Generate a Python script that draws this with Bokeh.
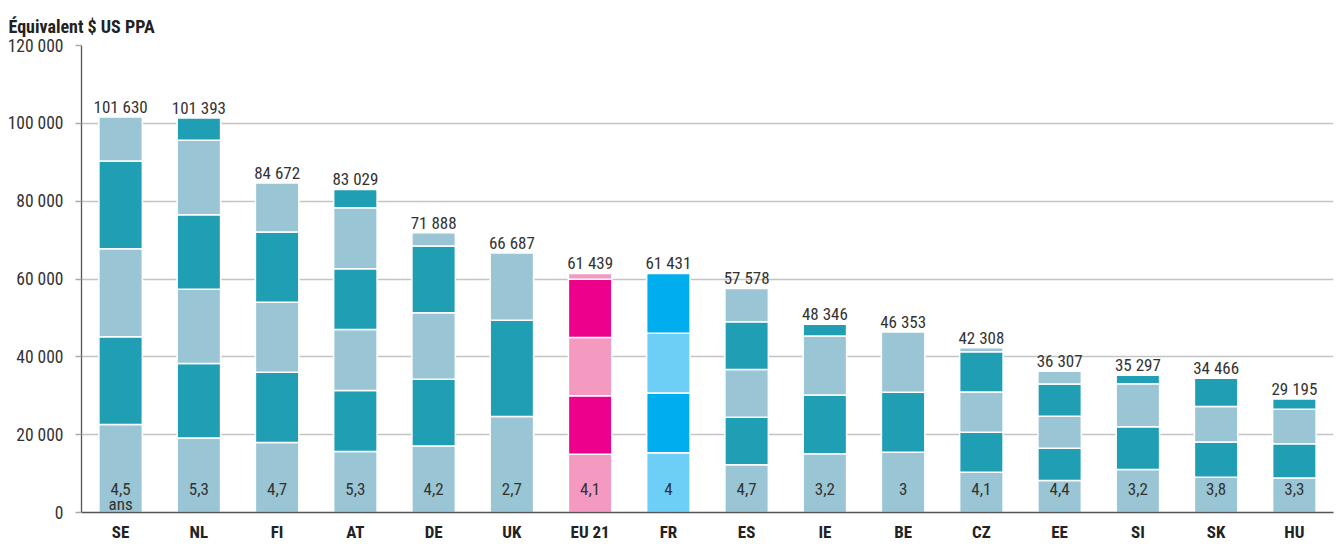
import math
from bokeh.plotting import figure
from bokeh.models import Range1d, FixedTicker, ColumnDataSource, Title
from bokeh.core.properties import value
from bokeh.embed import file_html
from bokeh.resources import INLINE

# ---- data ----
countries = ["SE", "NL", "FI", "AT", "DE", "UK", "EU 21", "FR", "ES", "IE", "BE", "CZ", "EE", "SI", "SK", "HU"]
totals = [101630, 101393, 84672, 83029, 71888, 66687, 61439, 61431, 57578, 48346, 46353, 42308, 36307, 35297, 34466, 29195]
years = [4.5, 5.3, 4.7, 5.3, 4.2, 2.7, 4.1, 4.0, 4.7, 3.2, 3.0, 4.1, 4.4, 3.2, 3.8, 3.3]
year_labels = ["4,5", "5,3", "4,7", "5,3", "4,2", "2,7", "4,1", "4", "4,7", "3,2", "3", "4,1", "4,4", "3,2", "3,8", "3,3"]
y_ticks = [0, 20000, 40000, 60000, 80000, 100000, 120000]
y_tick_labels = ["0", "20 000", "40 000", "60 000", "80 000", "100 000", "120 000"]
title_text = "Équivalent $ US PPA"
unit_text = "ans"

FONT = "'Roboto Condensed', 'Liberation Sans Narrow', Roboto, sans-serif"
palette_default = ("#99c5d4", "#209eb4")
palette_eu = ("#f49ac1", "#ec008c")
palette_fr = ("#6dcff6", "#00aeef")

# ---- segments: one per year of spending ----
seg_x, seg_bottom, seg_top, seg_color = [], [], [], []
for i, (c, t, yv) in enumerate(zip(countries, totals, years)):
    pal = palette_eu if c == "EU 21" else palette_fr if c == "FR" else palette_default
    per = t / yv
    n = math.ceil(yv - 1e-9)
    for k in range(n):
        seg_x.append(i)
        seg_bottom.append(k * per)
        seg_top.append(min((k + 1) * per, t))
        seg_color.append(pal[k % 2])

seg_src = ColumnDataSource(dict(x=seg_x, bottom=seg_bottom, top=seg_top, color=seg_color))

p = figure(width=1341, height=544, output_backend="svg", toolbar_location=None,
           x_range=Range1d(-0.5, 15.5), y_range=Range1d(0, 120000),
           min_border_left=81, min_border_right=8, min_border_top=45, min_border_bottom=32)
p.background_fill_color = "white"
p.outline_line_color = None

t = Title(text=title_text, align="left", offset=-73, text_font=FONT, text_font_size="18px",
          text_font_style="bold", text_color="#222222", standoff=14, vertical_align="top")
p.add_layout(t, "above")

p.vbar(x="x", bottom="bottom", top="top", width=0.555, fill_color="color",
       line_color="white", line_width=1.5, source=seg_src)

# totals above bars
tot_src = ColumnDataSource(dict(x=list(range(len(countries))), y=totals,
                                lab=[f"{v:,}".replace(",", " ") for v in totals]))
p.text(x="x", y="y", text="lab", source=tot_src, text_align="center", text_baseline="alphabetic",
       y_offset=-10, text_font=value(FONT), text_font_size="17px", text_color="#333333")

# years in bottom segment
yr_src = ColumnDataSource(dict(x=list(range(len(countries))), y=[0] * len(countries), lab=year_labels))
p.text(x="x", y="y", text="lab", source=yr_src, text_align="center", text_baseline="middle",
       y_offset=-24, text_font=value(FONT), text_font_size="17px", text_color="#333333")
p.text(x=[0], y=[0], text=[unit_text], text_align="center", text_baseline="middle",
       y_offset=-9, text_font=value(FONT), text_font_size="17px", text_color="#333333")

# axes
p.xaxis.ticker = FixedTicker(ticks=list(range(len(countries))))
p.xaxis.major_label_overrides = {i: c for i, c in enumerate(countries)}
p.xaxis.major_tick_line_color = None
p.xaxis.minor_tick_line_color = None
p.xaxis.major_tick_out = 0
p.xaxis.major_tick_in = 0
p.xaxis.major_label_standoff = 9
p.xaxis.major_label_text_font = FONT
p.xaxis.major_label_text_font_size = "17px"
p.xaxis.major_label_text_font_style = "bold"
p.xaxis.major_label_text_color = "#222222"
p.xaxis.axis_line_color = "#555555"
p.xaxis.axis_line_width = 1.5

p.yaxis.ticker = FixedTicker(ticks=y_ticks)
p.yaxis.major_label_overrides = {v: s for v, s in zip(y_ticks, y_tick_labels)}
p.yaxis.minor_tick_line_color = None
p.yaxis.major_tick_in = 0
p.yaxis.major_tick_out = 6
p.yaxis.major_tick_line_color = "#aaaaaa"
p.yaxis.major_tick_line_width = 1.5
p.yaxis.major_label_standoff = 12
p.yaxis.major_label_text_font = FONT
p.yaxis.major_label_text_font_size = "17.5px"
p.yaxis.major_label_text_color = "#333333"
p.yaxis.axis_line_color = "#555555"
p.yaxis.axis_line_width = 1.3

p.xgrid.grid_line_color = None
p.ygrid.grid_line_color = "#c4c4c4"
p.ygrid.grid_line_width = 1.5

open("out.html", "w").write(file_html(p, INLINE))
